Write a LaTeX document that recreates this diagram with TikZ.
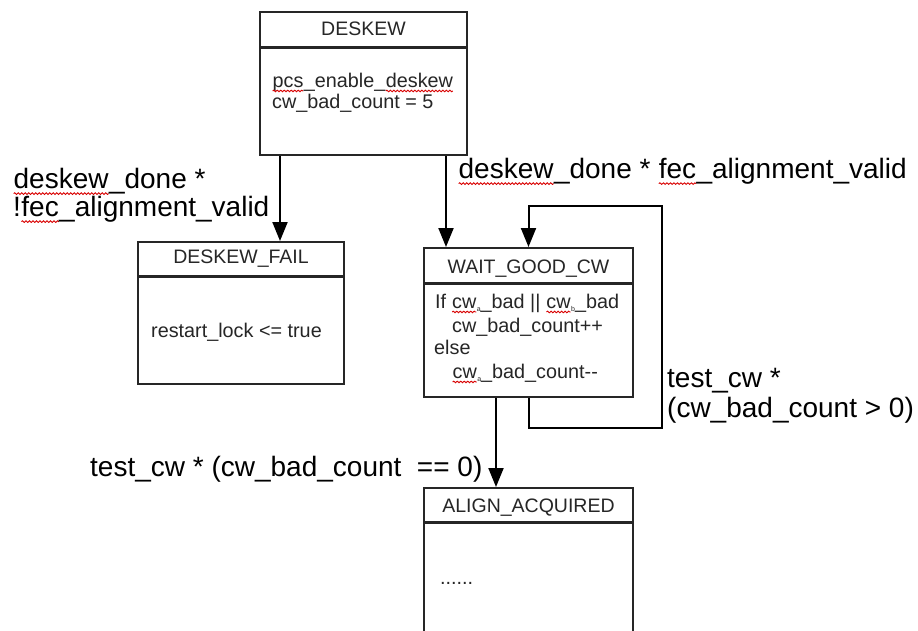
\documentclass[tikz,border=0pt]{standalone}
\usepackage{fontspec}
\setmainfont{Liberation Sans}
\usetikzlibrary{arrows.meta,decorations.pathmorphing}

% red wavy spell-check underline under a word
\newcommand\spellmark[1]{\tikz[baseline=(sm.base)]{%
  \node[inner sep=0pt,outer sep=0pt] (sm) {#1};%
  \draw[red!85!black,line width=0.9pt,decorate,
        decoration={snake,amplitude=0.8pt,segment length=3.5pt}]
    ([yshift=-0.2em]sm.base west) -- ([yshift=-0.2em]sm.base east);}}
% tiny lowered index letter
\newcommand\lowidx[1]{\raisebox{-3pt}{\fontsize{7}{7}\selectfont #1}}

\begin{document}
\begin{tikzpicture}[x=1pt,y=-1pt,
  statebox/.style={draw=black!85,line width=2pt,fill=white,inner sep=0pt},
  hdr/.style={draw=black!85,line width=3pt},
  ttl/.style={font=\fontsize{19.5}{22}\selectfont,text=black!85,inner sep=0pt,anchor=base},
  bodytxt/.style={font=\fontsize{19.8}{22}\selectfont,text=black!85,inner sep=0pt,anchor=base west},
  cond/.style={font=\fontsize{28}{28}\selectfont,inner sep=0pt,anchor=base west,align=left},
  arr/.style={line width=2pt,-{Triangle[length=19pt,width=15pt]}}]

\useasboundingbox (0,0) rectangle (918,630);
\fill[white] (0,0) rectangle (918,630);
\clip (0,0) rectangle (918,630);

% states
\node[statebox,minimum width=207pt,minimum height=143pt] (deskew) at (363.5,83.5) {};
\node[statebox,minimum width=206pt,minimum height=142pt] (fail)   at (241,313) {};
\node[statebox,minimum width=209pt,minimum height=149pt] (wait)   at (528.5,322.5) {};
\node[statebox,minimum width=209pt,minimum height=162pt] (align)  at (528.5,569) {};

% header separators
\draw[hdr] ([yshift=-36pt]deskew.north west) -- ([yshift=-36pt]deskew.north east);
\draw[hdr] ([yshift=-35pt]fail.north west)   -- ([yshift=-35pt]fail.north east);
\draw[hdr] ([yshift=-36pt]wait.north west)   -- ([yshift=-36pt]wait.north east);
\draw[hdr] ([yshift=-35pt]align.north west)  -- ([yshift=-35pt]align.north east);

% state titles
\node[ttl] (deskew-t) at (363.5,35)  {DESKEW};
\node[ttl] (fail-t)   at (241,263)   {DESKEW\_FAIL};
\node[ttl] (wait-t)   at (528.5,273) {WAIT\_GOOD\_CW};
\node[ttl] (align-t)  at (528.5,512) {ALIGN\_ACQUIRED};

% state actions
\node[bodytxt] (deskew-a1) at (272,87)  {\spellmark{pcs}\_enable\_\spellmark{deskew}};
\node[bodytxt] (deskew-a2) at (272,108) {cw\_bad\_count = 5};
\node[bodytxt] (fail-a1)   at (151,337) {restart\_lock <= true};
\node[bodytxt] (wait-a1)   at (435,308) {If \spellmark{cw}\lowidx{a}\_bad || \spellmark{cw}\lowidx{b}\_bad};
\node[bodytxt] (wait-a2)   at (452,332) {cw\_bad\_count++};
\node[bodytxt] (wait-a3)   at (434,354) {else};
\node[bodytxt] (wait-a4)   at (452,378) {\spellmark{cw}\lowidx{a}\_bad\_count-{}-};
\node[bodytxt] (align-a1)  at (440,584) {......};

% transitions
\draw[arr] ([xshift=21pt]deskew.south west) -- ([xshift=21pt]deskew.south west |- fail.north);
\draw[arr] ([xshift=187pt]deskew.south west) -- ([xshift=187pt]deskew.south west |- wait.north);
\draw[arr] (wait.south) -- ++(0,30) -| ++(133,-222) -| (wait.north);
\draw[arr] ([xshift=73pt]wait.south west) -- ([xshift=73pt]wait.south west |- align.north);

% transition conditions (multi-line nodes are anchored at their last baseline)
\node[cond] (c-fail) at (13,216) {\spellmark{deskew}\_done *\\!\spellmark{fec}\_alignment\_valid};
\node[cond] (c-ok)   at (458,178) {\spellmark{deskew}\_done * \spellmark{fec}\_alignment\_valid};
\node[cond] (c-loop) at (667,417) {test\_cw *\\[2pt](cw\_bad\_count > 0)};
\node[cond] (c-done) at (90,476)  {test\_cw * (cw\_bad\_count\ \ == 0)};
\end{tikzpicture}
\end{document}
